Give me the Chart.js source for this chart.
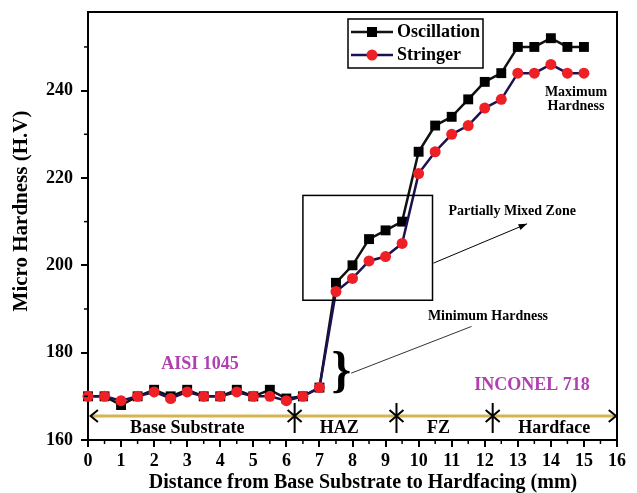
<!DOCTYPE html>
<html>
<head>
<meta charset="utf-8">
<script src="https://cdn.jsdelivr.net/npm/chart.js@4.4.0/dist/chart.umd.min.js"></script>
<style>
  html, body { margin: 0; padding: 0; background: #fff; }
</style>
</head>
<body>
<canvas id="chart" width="637" height="493"></canvas>
<script>
// distance from base substrate (mm)
const distance = [0, 0.5, 1, 1.5, 2, 2.5, 3, 3.5, 4, 4.5, 5, 5.5, 6, 6.5, 7, 7.5, 8, 8.5, 9, 9.5,
                  10, 10.5, 11, 11.5, 12, 12.5, 13, 13.5, 14, 14.5, 15];
const oscillation = [170, 170, 168, 170, 171.5, 170, 171.5, 170, 170, 171.5, 170, 171.5, 169.5, 170, 172,
                     196, 200, 206, 208, 210, 226, 232, 234, 238, 242, 244, 250, 250, 252, 250, 250];
const stringer = [170, 170, 169, 170, 171, 169.5, 171, 170, 170, 171, 170, 170, 169, 170, 172,
                  194, 197, 201, 202, 205, 221, 226, 230, 232, 236, 238, 244, 244, 246, 244, 244];

const xTicks = [0, 1, 2, 3, 4, 5, 6, 7, 8, 9, 10, 11, 12, 13, 14, 15, 16];
const xMinorTicks = [0.5, 1.5, 2.5, 3.5, 4.5, 5.5, 6.5, 7.5, 8.5, 9.5, 10.5, 11.5, 12.5, 13.5, 14.5, 15.5];
const yTicks = [160, 180, 200, 220, 240];
const yMinorTicks = [170, 190, 210, 230, 250];

const zones = ['Base Substrate', 'HAZ', 'FZ', 'Hardface'];
const zoneCentres = [3.0, 7.6, 10.6, 14.1];
const zoneBounds = [6.25, 9.33, 12.24];

const SERIF = '"Liberation Serif", "Times New Roman", serif';
const tickFont = { family: SERIF, size: 18, weight: 'bold' };

function toPoints(ys) {
    return distance.map((x, i) => ({ x: x, y: ys[i] }));
}

function text(ctx, str, x, y, size, color, align) {
    ctx.font = 'bold ' + size + 'px ' + SERIF;
    ctx.fillStyle = color || '#000';
    ctx.textAlign = align || 'center';
    ctx.textBaseline = 'middle';
    ctx.fillText(str, x, y);
}

function arrowLine(ctx, x1, y1, x2, y2, head) {
    ctx.beginPath();
    ctx.moveTo(x1, y1);
    ctx.lineTo(x2, y2);
    ctx.stroke();
    if (!head) return;
    const a = Math.atan2(y2 - y1, x2 - x1);
    ctx.beginPath();
    ctx.moveTo(x2, y2);
    ctx.lineTo(x2 - 9 * Math.cos(a - 0.35), y2 - 9 * Math.sin(a - 0.35));
    ctx.lineTo(x2 - 9 * Math.cos(a + 0.35), y2 - 9 * Math.sin(a + 0.35));
    ctx.closePath();
    ctx.fill();
}

const decor = {
    id: 'decor',
    afterDraw(chart) {
        const ctx = chart.ctx;
        const xs = chart.scales.x, ys = chart.scales.y;
        const area = chart.chartArea;
        const px = v => xs.getPixelForValue(v);
        const py = v => ys.getPixelForValue(v);
        ctx.save();

        // frame top / right
        ctx.strokeStyle = '#000';
        ctx.lineWidth = 2;
        ctx.beginPath();
        ctx.moveTo(area.left, area.top);
        ctx.lineTo(area.right, area.top);
        ctx.lineTo(area.right, area.bottom);
        ctx.stroke();

        // minor ticks
        ctx.lineWidth = 1.5;
        xMinorTicks.forEach(v => {
            ctx.beginPath();
            ctx.moveTo(px(v), area.bottom);
            ctx.lineTo(px(v), area.bottom + 4);
            ctx.stroke();
        });
        yMinorTicks.forEach(v => {
            ctx.beginPath();
            ctx.moveTo(area.left, py(v));
            ctx.lineTo(area.left - 4, py(v));
            ctx.stroke();
        });

        // axis titles
        text(ctx, 'Distance from Base Substrate to Hardfacing (mm)', 363, 483, 20);
        ctx.save();
        ctx.translate(22, 211);
        ctx.rotate(-Math.PI / 2);
        text(ctx, 'Micro Hardness (H.V)', 0, 0, 21);
        ctx.restore();

        // zone line
        const zy = py(165.5);
        ctx.strokeStyle = '#d6b452';
        ctx.lineWidth = 3;
        ctx.beginPath();
        ctx.moveTo(px(0.08), zy);
        ctx.lineTo(px(15.95), zy);
        ctx.stroke();
        ctx.strokeStyle = '#000';
        ctx.lineWidth = 2;
        ctx.beginPath();
        ctx.moveTo(px(0.3), zy - 6);
        ctx.lineTo(px(0.08), zy);
        ctx.lineTo(px(0.3), zy + 6);
        ctx.moveTo(px(15.75), zy - 6);
        ctx.lineTo(px(15.97), zy);
        ctx.lineTo(px(15.75), zy + 6);
        ctx.stroke();
        zoneBounds.forEach(v => {
            const x = px(v);
            ctx.beginPath();
            ctx.moveTo(x, py(168.5));
            ctx.lineTo(x, py(161.6));
            ctx.moveTo(x - 7, zy - 6);
            ctx.lineTo(x + 7, zy + 6);
            ctx.moveTo(x + 7, zy - 6);
            ctx.lineTo(x - 7, zy + 6);
            ctx.stroke();
        });
        zones.forEach((z, i) => text(ctx, z, px(zoneCentres[i]), py(162.6), 18));

        // material labels
        text(ctx, 'AISI 1045', px(3.39), py(177.4), 18, '#b040b0');
        text(ctx, 'INCONEL 718', px(13.43), py(172.6), 18, '#b040b0');

        // partially mixed zone
        ctx.strokeStyle = '#000';
        ctx.lineWidth = 1.5;
        ctx.strokeRect(px(6.5), py(216), px(10.42) - px(6.5), py(192) - py(216));
        ctx.lineWidth = 1;
        ctx.fillStyle = '#000';
        arrowLine(ctx, px(10.45), py(200.5), px(13.28), py(209.5), true);
        text(ctx, 'Partially Mixed Zone', px(10.9), py(212.4), 14, '#000', 'left');

        // minimum hardness
        text(ctx, '}', px(7.66), py(175.3), 50, '#000');
        ctx.strokeStyle = '#333';
        ctx.lineWidth = 1;
        arrowLine(ctx, px(7.96), py(175.3), px(11.6), py(186), false);
        text(ctx, 'Minimum Hardness', px(10.28), py(188.4), 14, '#000', 'left');

        // maximum hardness
        text(ctx, 'Maximum', px(14.76), py(239.7), 14);
        text(ctx, 'Hardness', px(14.76), py(236.3), 14);

        // legend
        ctx.strokeStyle = '#000';
        ctx.lineWidth = 1.5;
        ctx.strokeRect(348, 19, 135, 49);
        chart.data.datasets.forEach((ds, i) => {
            const y = i === 0 ? 32 : 55;
            ctx.strokeStyle = ds.borderColor;
            ctx.lineWidth = ds.borderWidth;
            ctx.beginPath();
            ctx.moveTo(351, y);
            ctx.lineTo(393, y);
            ctx.stroke();
            ctx.fillStyle = ds.pointBackgroundColor;
            if (ds.pointStyle === 'rect') {
                ctx.fillRect(372 - 5, y - 5, 10, 10);
            } else {
                ctx.beginPath();
                ctx.arc(372, y, 5.5, 0, Math.PI * 2);
                ctx.fill();
            }
            text(ctx, ds.label, 397, y, 18, '#000', 'left');
        });

        ctx.restore();
    }
};

new Chart(document.getElementById('chart'), {
    type: 'line',
    data: {
        datasets: [{
            label: 'Oscillation',
            data: toPoints(oscillation),
            borderColor: '#111111',
            borderWidth: 2.5,
            pointStyle: 'rect',
            pointRadius: 7,
            pointBackgroundColor: '#000',
            pointBorderColor: '#000',
            pointBorderWidth: 0,
            order: 1,
            clip: false
        }, {
            label: 'Stringer',
            data: toPoints(stringer),
            borderColor: '#1e1150',
            borderWidth: 2.5,
            pointStyle: 'circle',
            pointRadius: 5.5,
            pointBackgroundColor: '#ee2026',
            pointBorderColor: '#ee2026',
            pointBorderWidth: 0,
            order: 0,
            clip: false
        }]
    },
    options: {
        responsive: false,
        animation: false,
        devicePixelRatio: 1,
        layout: { autoPadding: false, padding: { top: 12, right: 20, left: 0, bottom: 0 } },
        plugins: { legend: { display: false }, tooltip: { enabled: false } },
        scales: {
            x: {
                type: 'linear',
                min: 0,
                max: 16,
                afterBuildTicks: s => { s.ticks = xTicks.map(v => ({ value: v })); },
                afterFit: s => { s.height = 53; s.paddingLeft = 0; s.paddingRight = 0; },
                grid: { drawOnChartArea: false, tickLength: 7, color: '#000', lineWidth: 2 },
                border: { color: '#000', width: 2 },
                ticks: { color: '#000', font: tickFont, padding: 4, maxRotation: 0, autoSkip: false }
            },
            y: {
                min: 160,
                max: 258,
                afterBuildTicks: s => { s.ticks = yTicks.map(v => ({ value: v })); },
                afterFit: s => { s.width = 88; s.paddingTop = 0; s.paddingBottom = 0; },
                grid: { drawOnChartArea: false, tickLength: 7, color: '#000', lineWidth: 2 },
                border: { color: '#000', width: 2 },
                ticks: { color: '#000', font: tickFont, padding: 8 }
            }
        }
    },
    plugins: [decor]
});
</script>
</body>
</html>
